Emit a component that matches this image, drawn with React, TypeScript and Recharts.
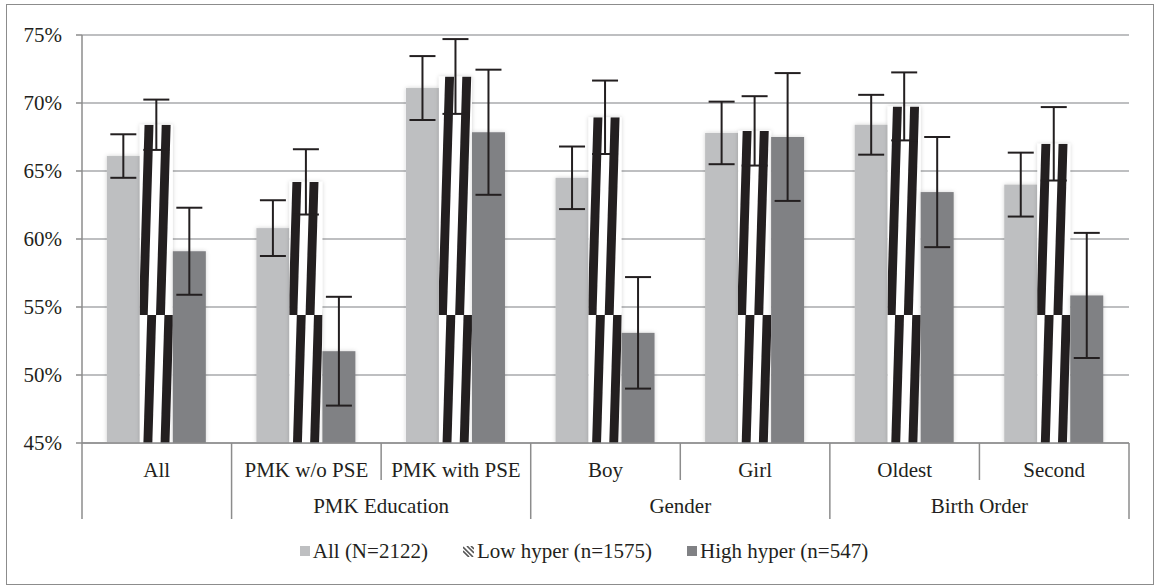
import React from 'react';
import { BarChart, Bar, XAxis, YAxis, CartesianGrid, ErrorBar, Legend } from 'recharts';

const categories = ['All', 'PMK w/o PSE', 'PMK with PSE', 'Boy', 'Girl', 'Oldest', 'Second'];
const groupLabels = ['', 'PMK Education', 'PMK Education', 'Gender', 'Gender', 'Birth Order', 'Birth Order'];

const allValues = [66.1, 60.8, 71.1, 64.5, 67.8, 68.4, 64.0];
const allErrors = [1.6, 2.05, 2.35, 2.3, 2.3, 2.2, 2.35];
const lowValues = [68.4, 64.2, 71.95, 68.95, 67.95, 69.75, 67.0];
const lowErrors = [1.85, 2.4, 2.75, 2.7, 2.55, 2.5, 2.7];
const highValues = [59.1, 51.75, 67.85, 53.1, 67.5, 63.45, 55.85];
const highErrors = [3.2, 4.0, 4.6, 4.1, 4.7, 4.05, 4.6];

const yTicks = [45, 50, 55, 60, 65, 70, 75];
const seriesNames = ['All (N=2122)', 'Low hyper (n=1575)', 'High hyper (n=547)'];

const data = categories.map((name, i) => ({
  name,
  group: groupLabels[i],
  all: allValues[i],
  allErr: allErrors[i],
  low: lowValues[i],
  lowErr: lowErrors[i],
  high: highValues[i],
  highErr: highErrors[i],
}));

const FONT = '"Liberation Serif", "Times New Roman", serif';
const TEXT = '#231f20';
const LINE = '#8c8c8c';
const LIGHT = '#bebfc1';
const DARK = '#808184';
const FS = 21;

const CategoryTick = (props: any) => {
  const { x, y, payload } = props;
  const i: number = payload.index ?? props.index ?? 0;
  const half: number = payload.offset || 74.8;
  const cx = x;
  const g = groupLabels[i];
  const isLastInGroup = i === categories.length - 1 || groupLabels[i + 1] !== g || g === '';
  const elems: any[] = [];
  elems.push(
    <text key="lab" x={cx} y={y + 34} textAnchor="middle" fontFamily={FONT} fontSize={FS} fill={TEXT}>
      {payload.value}
    </text>
  );
  elems.push(
    <line key="r" x1={cx + half} x2={cx + half} y1={y} y2={y + (isLastInGroup ? 76 : 37)} stroke={LINE} strokeWidth={1.5} />
  );
  if (i === 0) {
    elems.push(<line key="l" x1={cx - half} x2={cx - half} y1={y} y2={y + 76} stroke={LINE} strokeWidth={1.5} />);
  }
  if (g !== '' && (i === 0 || groupLabels[i - 1] !== g)) {
    let n = 0;
    while (i + n < groupLabels.length && groupLabels[i + n] === g) n++;
    const gc = cx - half + n * half;
    elems.push(
      <text key="grp" x={gc} y={y + 70} textAnchor="middle" fontFamily={FONT} fontSize={FS} fill={TEXT}>
        {g}
      </text>
    );
  }
  return <g>{elems}</g>;
};

const SolidBar = (props: any) => {
  const { x, y, width, height, fill } = props;
  if (!(height > 0)) return null;
  return <rect x={x} y={y} width={width} height={height} fill={fill} filter="url(#barShadow)" />;
};

const StripedBar = (props: any) => {
  const { x, y, width, height, index } = props;
  if (!(height > 0)) return null;
  const id = `stripe-clip-${index}`;
  const period = width * 0.52;
  const stripeW = width * 0.27;
  const p0 = width * 0.225;
  const slope = 0.03;
  const tileH = 280;
  const tileTop0 = 35;
  const top = y;
  const bottom = y + height;
  const polys: string[] = [];
  let t = tileTop0 + Math.floor((top - tileTop0) / tileH) * tileH;
  for (; t < bottom; t += tileH) {
    const ya = Math.max(top, t);
    const yb = Math.min(bottom, t + tileH);
    for (let j = -1; j <= 2; j++) {
      const xa = x + p0 - slope * (ya - t) + j * period;
      const xb = x + p0 - slope * (yb - t) + j * period;
      polys.push(`${xa},${ya} ${xa + stripeW},${ya} ${xb + stripeW},${yb} ${xb},${yb}`);
    }
  }
  return (
    <g>
      <defs>
        <clipPath id={id}>
          <rect x={x} y={y} width={width} height={height} />
        </clipPath>
      </defs>
      <rect x={x} y={y} width={width} height={height} fill="#ffffff" filter="url(#barShadow)" />
      <g clipPath={`url(#${id})`}>
        {polys.map((p, k) => (
          <polygon key={k} points={p} fill={TEXT} />
        ))}
      </g>
    </g>
  );
};

const LegendContent = () => {
  const item = (icon: any, label: string, key: string) => (
    <div key={key} style={{ display: 'flex', alignItems: 'center', marginRight: 35 }}>
      {icon}
      <span style={{ marginLeft: 3 }}>{label}</span>
    </div>
  );
  const stripeIcon = (
    <svg width={11} height={11} style={{ display: 'block' }}>
      <rect x={0} y={0} width={11} height={11} fill="#fff" />
      <path d="M0,1 L10,11 M0,5 L6,11 M4,0 L11,7 M8,0 L11,3" stroke="#555" strokeWidth={1.6} />
    </svg>
  );
  return (
    <div
      style={{
        height: 55,
        display: 'flex',
        justifyContent: 'center',
        alignItems: 'flex-start',
        paddingTop: 8,
        paddingLeft: 74,
        boxSizing: 'border-box',
        fontFamily: FONT,
        fontSize: FS,
        color: TEXT,
        lineHeight: '26px',
      }}
    >
      {item(<div style={{ width: 10, height: 10, background: LIGHT }} />, seriesNames[0], 'a')}
      {item(stripeIcon, seriesNames[1], 'b')}
      {item(<div style={{ width: 10, height: 10, background: DARK }} />, seriesNames[2], 'c')}
    </div>
  );
};

export default function App() {
  return (
    <div style={{ position: 'absolute', left: 0, top: 0, width: 1154, height: 585, background: '#fff', overflow: 'hidden' }}>
      <div
        style={{
          position: 'absolute',
          left: 6,
          top: 4,
          width: 1148,
          height: 581,
          border: '1px solid #8c8c8c',
          boxSizing: 'border-box',
        }}
      />
      <div style={{ position: 'absolute', left: 0, top: 0 }}>
        <BarChart
          width={1154}
          height={585}
          data={data}
          margin={{ top: 35, right: 25, left: 0, bottom: 0 }}
          barCategoryGap="16.6%"
          barGap={0}
        >
          <defs>
            <filter id="barShadow" x="-30%" y="-10%" width="160%" height="120%">
              <feGaussianBlur in="SourceAlpha" stdDeviation="2" result="blur" />
              <feFlood floodColor="#000" floodOpacity="0.18" />
              <feComposite in2="blur" operator="in" result="shadow" />
              <feMerge>
                <feMergeNode in="shadow" />
                <feMergeNode in="SourceGraphic" />
              </feMerge>
            </filter>
          </defs>
          <CartesianGrid vertical={false} stroke="#a9aaac" strokeWidth={1.6} />
          <XAxis
            dataKey="name"
            height={87}
            interval={0}
            tickSize={0}
            tickMargin={0}
            tickLine={false}
            axisLine={{ stroke: LINE, strokeWidth: 1.5 }}
            tick={<CategoryTick />}
          />
          <YAxis
            width={82}
            domain={[45, 75]}
            ticks={yTicks}
            interval={0}
            allowDataOverflow
            tickFormatter={(v: number) => `${v}%`}
            tick={{ fontSize: FS, fill: TEXT, fontFamily: FONT }}
            tickSize={6}
            tickMargin={14}
            tickLine={{ stroke: LINE, strokeWidth: 1.5 }}
            axisLine={{ stroke: LINE, strokeWidth: 1.5 }}
          />
          <Legend verticalAlign="bottom" content={<LegendContent />} />
          <Bar dataKey="all" fill={LIGHT} isAnimationActive={false} shape={<SolidBar />}>
            <ErrorBar dataKey="allErr" width={13} stroke={TEXT} strokeWidth={2} direction="y" />
          </Bar>
          <Bar dataKey="low" fill="#ffffff" isAnimationActive={false} shape={<StripedBar />}>
            <ErrorBar dataKey="lowErr" width={13} stroke={TEXT} strokeWidth={2} direction="y" />
          </Bar>
          <Bar dataKey="high" fill={DARK} isAnimationActive={false} shape={<SolidBar />}>
            <ErrorBar dataKey="highErr" width={13} stroke={TEXT} strokeWidth={2} direction="y" />
          </Bar>
        </BarChart>
      </div>
    </div>
  );
}
